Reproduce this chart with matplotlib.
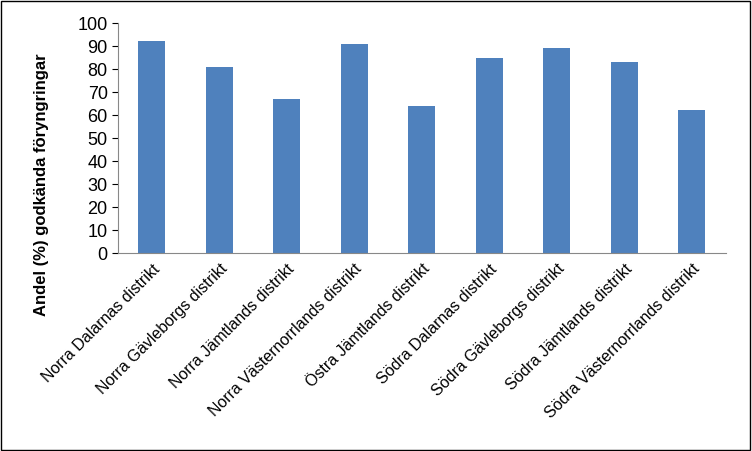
import matplotlib.pyplot as plt

districts = ['Norra Dalarnas distrikt', 'Norra Gävleborgs distrikt', 'Norra Jämtlands distrikt',
             'Norra Västernorrlands distrikt', 'Östra Jämtlands distrikt', 'Södra Dalarnas distrikt',
             'Södra Gävleborgs distrikt', 'Södra Jämtlands distrikt', 'Södra Västernorrlands distrikt']
andel = [92, 81, 67, 91, 64, 85, 89, 83, 62]

plt.rcParams['font.family'] = 'Liberation Sans'
fig = plt.figure(figsize=(7.52, 4.51), dpi=100)
ax = fig.add_axes([0.157, 0.439, 0.808, 0.51])
x = range(len(districts))
ax.bar(x, andel, width=0.4, color='#4F81BD')
ax.set_xlim(-0.5, len(districts) - 0.5)
ax.set_ylim(0, 100)
ax.set_yticks(range(0, 101, 10))
ax.tick_params(axis='y', labelsize=13, length=4)
ax.tick_params(axis='x', length=0, pad=6)
ax.set_xticks(list(x))
ax.set_xticklabels(districts, rotation=45, ha='right', rotation_mode='anchor', fontsize=11.5)
fig.text(0.055, 0.59, 'Andel (%) godkända föryngringar', rotation=90, fontsize=12,
         fontweight='bold', ha='center', va='center')
for s in ['top', 'right']:
    ax.spines[s].set_visible(False)
ax.spines['left'].set_color('#888888')
ax.spines['bottom'].set_color('#888888')
fig.patches.append(plt.Rectangle((0.001, 0.002), 0.997, 0.996, transform=fig.transFigure,
                                 fill=False, edgecolor='black', linewidth=1))
fig.savefig('out.png', dpi=100)
